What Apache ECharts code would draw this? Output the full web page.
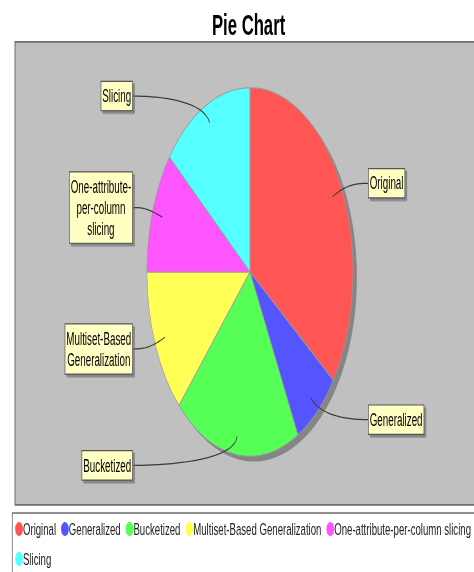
<!DOCTYPE html>
<html>
<head>
<meta charset="utf-8">
<script src="https://cdn.jsdelivr.net/npm/echarts@6/dist/echarts.min.js"></script>
<style>
html, body { margin: 0; padding: 0; background: #ffffff; width: 474px; height: 572px; overflow: hidden; }
/* The reference is a vertically stretched screenshot: draw at the original size and stretch */
#wrap { position: absolute; left: 0; top: 0; width: 483px; height: 326px; transform-origin: 0 0; transform: scale(0.98137, 1.75460); }
#chart { width: 483px; height: 326px; }
</style>
</head>
<body>
<div id="wrap"><div id="chart"></div></div>
<script>
// ---- data ----
const chartTitle = 'Pie Chart';
const categories = ['Original', 'Generalized', 'Bucketized', 'Multiset-Based Generalization', 'One-attribute-per-column slicing', 'Slicing'];
const sliceLabels = ['Original', 'Generalized', 'Bucketized', 'Multiset-Based\nGeneralization', 'One-attribute-\nper-column\nslicing', 'Slicing'];
const values = [35.0, 7.3, 19.8, 12.9, 10.7, 14.3];
const colors = ['#ff5555', '#5555ff', '#55ff55', '#ffff55', '#ff55ff', '#55ffff'];

// ---- layout ----
const FONT = '"Liberation Sans", Arial, sans-serif';
const CX = 254.7, CY = 155.0, R = 105;
const total = values.reduce((a, b) => a + b, 0);

function midDir(i) {
  let cum = 0;
  for (let k = 0; k < i; k++) cum += values[k];
  const a = (cum + values[i] / 2) / total * 2 * Math.PI;
  return [Math.sin(a), -Math.cos(a)];
}

// JFreeChart-like cubic label link: from the label box edge to a point inside the slice
function linkLayout(p) {
  const d = midDir(p.dataIndex);
  const right = d[0] >= 0;
  const link = [CX + d[0] * R * 0.9, CY + d[1] * R * 0.9];
  const elbow = [CX + d[0] * R * 1.06, CY + d[1] * R * 1.06];
  const anchorX = CX + (right ? 1 : -1) * R * 1.06;
  const targetX = CX + (right ? 121 : -120);
  const ty = elbow[1];
  const P0 = [targetX, ty], C1 = [anchorX, ty], C2 = elbow, P3 = link;
  const curve = [];
  for (let k = 0; k <= 20; k++) {
    const t = k / 20, u = 1 - t;
    curve.push([
      u * u * u * P0[0] + 3 * u * u * t * C1[0] + 3 * u * t * t * C2[0] + t * t * t * P3[0],
      u * u * u * P0[1] + 3 * u * u * t * C1[1] + 3 * u * t * t * C2[1] + t * t * t * P3[1]
    ]);
  }
  curve.reverse();
  return {
    x: targetX, y: ty,
    align: right ? 'left' : 'right', verticalAlign: 'middle',
    labelLinePoints: curve
  };
}

const chart = echarts.init(document.getElementById('chart'), null, { renderer: 'svg' });
chart.setOption({
  animation: false,
  backgroundColor: '#ffffff',
  title: {
    text: chartTitle, left: 216, top: 5.5, padding: 0,
    textStyle: { fontFamily: FONT, fontWeight: 'bold', fontSize: 17, color: '#000000' }
  },
  graphic: [
    { type: 'rect', z: 0, silent: true, shape: { x: 15.3, y: 23.9, width: 480, height: 263.9 },
      style: { fill: '#c0c0c0', stroke: '#6e6e6e', lineWidth: 1 } },
    { type: 'rect', z: 0, silent: true, shape: { x: 12.5, y: 292.4, width: 480, height: 50 },
      style: { fill: '#ffffff', stroke: '#6e6e6e', lineWidth: 0.8 } }
  ],
  legend: {
    data: categories, orient: 'horizontal', left: 15.4, top: 295.5, width: 478, padding: 0,
    itemGap: 5, itemWidth: 8, itemHeight: 8, icon: 'circle', selectedMode: false,
    itemStyle: { borderWidth: 0 },
    textStyle: { fontFamily: FONT, fontSize: 9.8, lineHeight: 12, color: '#222222', padding: [0, 0, 0, -5] }
  },
  series: [
    {
      type: 'pie', name: 'shadow', silent: true, z: 1,
      center: [CX + 4, CY + 3], radius: R,
      data: [{ name: '', value: total }],
      itemStyle: { color: '#858585' },
      label: { show: false }, labelLine: { show: false },
      emphasis: { disabled: true }, legendHoverLink: false
    },
    {
      type: 'pie', name: 'Pie', z: 2,
      center: [CX, CY], radius: R, startAngle: 90, clockwise: true,
      data: categories.map((c, i) => ({ name: c, value: values[i], itemStyle: { color: colors[i] } })),
      itemStyle: { borderColor: '#9a9a9a', borderWidth: 0.6 },
      emphasis: { disabled: true },
      label: { show: false }, labelLine: { show: false }
    },
    {
      type: 'pie', name: 'Labels', z: 10, silent: true, legendHoverLink: false,
      center: [CX, CY], radius: R, startAngle: 90, clockwise: true,
      avoidLabelOverlap: false,
      data: categories.map((c, i) => ({ name: c, value: values[i] })),
      itemStyle: { color: 'rgba(0,0,0,0)', borderWidth: 0 },
      emphasis: { disabled: true },
      label: {
        show: true, position: 'outside',
        formatter: p => sliceLabels[p.dataIndex].split('\n').map(s => '{c|' + s + '}').join('\n'),
        fontFamily: FONT, fontSize: 10, lineHeight: 12, color: '#000000',
        backgroundColor: '#ffffc4', borderColor: '#555555', borderWidth: 0.7,
        padding: [2, 1, 2, 1],
        shadowColor: 'rgba(110,110,110,0.7)', shadowOffsetX: 2, shadowOffsetY: 1.5, shadowBlur: 0,
        rich: { c: { align: 'center', fontFamily: FONT, fontSize: 10, lineHeight: 12, color: '#000000' } }
      },
      labelLine: { show: true, showAbove: true, smooth: false, length: 6, length2: 10, lineStyle: { color: '#3a3a3a', width: 0.7 } },
      labelLayout: linkLayout
    }
  ]
});
</script>
</body>
</html>
